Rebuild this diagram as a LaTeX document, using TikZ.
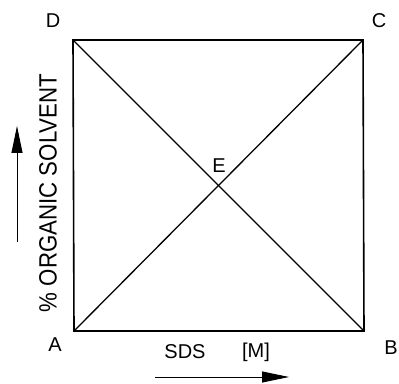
\documentclass[tikz,border=0pt]{standalone}
\usepackage{fontspec}
\setmainfont{Liberation Sans}
\usetikzlibrary{arrows.meta}
\begin{document}
\begin{tikzpicture}[x=1pt,y=1pt,
  edge/.style={line width=1.6pt},
  diag/.style={line width=1.3pt},
  lbl/.style={font=\fontsize{20}{20}\selectfont, inner sep=0pt},
  ylbl/.style={font=\fontsize{25}{25}\selectfont, inner sep=0pt, rotate=90},
  axarrow/.style={line width=0.9pt, -{Triangle[length=27pt,width=11pt]}}]
\useasboundingbox (0,0) rectangle (399,383);
\coordinate (A) at (74,52);
\coordinate (B) at (364,52);
\coordinate (C) at (363,343);
\coordinate (D) at (73,343);
\draw[edge] (A) -- (B) -- (C) -- (D) -- cycle;
\draw[diag] (A) -- (C);
\draw[diag] (B) -- (D);
\node[lbl] (la) at (55,38) {A};
\node[lbl] (lb) at (391,35) {B};
\node[lbl] (lc) at (379,362) {C};
\node[lbl] (ld) at (53,362) {D};
\node[lbl] (le) at (219,217) {E};
\node[lbl] (sds) at (185,31) {SDS};
\node[lbl] (m) at (256,31) {[M]};
\node[ylbl] (ylab) at (48,190) {\scalebox{0.89}[1]{\% ORGANIC SOLVENT}};
\coordinate (h0) at (155,6);
\coordinate (h1) at (289,6);
\coordinate (v0) at (17,141);
\coordinate (v1) at (17,257);
\draw[axarrow] (h0) -- (h1);
\draw[axarrow] (v0) -- (v1);
\end{tikzpicture}
\end{document}
